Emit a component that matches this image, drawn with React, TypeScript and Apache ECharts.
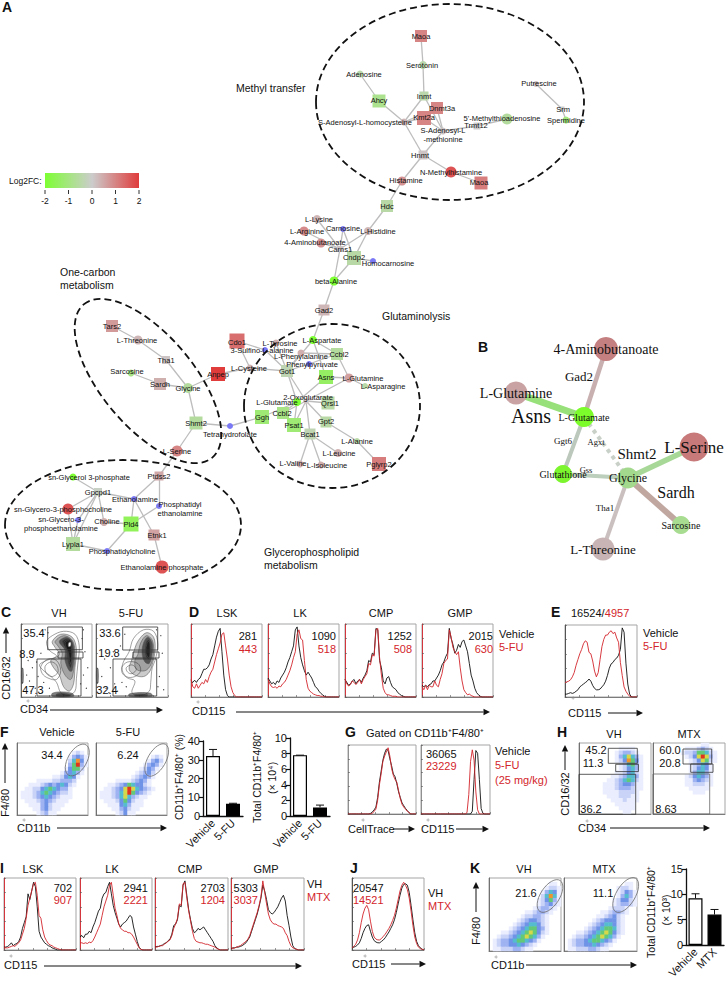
import React, { useEffect, useRef } from "react";
import * as echarts from "echarts";

const SANS = '"Liberation Sans", Arial, sans-serif';
const SERIF = '"Liberation Serif", "Times New Roman", serif';
const RED = "#d3252b";

// ---------- Panel A network: id, label, log2FC (null = metabolite without FC), kind, x, y, size, label x, label y
const netNodes: any[] = [
  ["maoaA","Maoa",1,"r",421,36,12,421,36],["sero","Serotonin",-.6,"c",423,65,8,422,65],["adeno","Adenosine",-.6,"c",360,74,7,364,74],
  ["ahcy","Ahcy",-1,"r",379,101,13,379,100],["inmt","Inmt",-.6,"r",424,96,9,424,96],["dnmt","Dnmt3a",1,"r",437,108,12,442,108],
  ["kmt","Kmt2a",1,"r",424,118,14,424,117],["sah","S-Adenosyl-L-homocysteine",.3,"c",404,122,7,365,122],
  ["sam","S-Adenosyl-L\n-methionine",.1,"c",443,131,7,443,135],["mta","5'-Methylthioadenosine",-.8,"c",507,119,11,502,118],
  ["trmt","Trmt12",0,"r",477,126,7,476,125],["hnmt","Hnmt",.1,"r",423,155,9,420,155],["nmh","N-Methylhistamine",1.7,"c",451,172,11,451,172],
  ["maoaB","Maoa",1.1,"r",481,183,13,479,182],["hist","Histamine",.8,"c",402,181,9,406,180],["hdc","Hdc",-.7,"r",387,206,12,387,206],
  ["puts","Putrescine",.2,"c",536,84,6,539,83],["srm","Srm",0,"r",562,109,5,563,109],["sper","Spermidine",-1.2,"c",566,120,7,566,120],
  ["lys","L-Lysine",.3,"c",317,219,8,319,219],["arg","L-Arginine",.9,"c",304,231,9,307,231],["carn","Carnosine",null,"c",343,229,6,343,228],
  ["his","L-Histidine",.3,"c",368,231,8,378,231],["gaba","4-Aminobutanoate",.8,"c",321,243,9,315,242],["carns","Carns1",.1,"r",340,249,6,340,249],
  ["cndp","Cndp2",-.7,"r",354,258,14,354,257],["homo","Homocarnosine",null,"c",373,261,6,388,263],["bala","beta-Alanine",-2,"c",334,281,9,336,281],
  ["gad","Gad2",.3,"r",324,310,11,324,310],["asp","L-Aspartate",-2,"c",313,340,8,322,340],["tyr","L-Tyrosine",.4,"c",276,343,7,280,343],
  ["cdo","Cdo1",1.3,"r",237,341,15,237,342],["sulf","3-Sulfino-L-alanine",null,"c",265,350,6,262,350],["phe","L-Phenylalanine",.4,"c",301,353,7,301,356],
  ["ccblA","Ccbl2",-.8,"r",337,354,12,339,354],["pyr","Phenylpyruvate",null,"c",309,364,6,312,364],["cys","L-Cysteine",.3,"c",250,368,7,249,368],
  ["got","Got1",-.5,"r",287,371,12,287,371],["asns","Asns",-1.5,"r",326,377,14,326,377],["gln","L-Glutamine",.6,"c",349,378,9,363,378],
  ["asn","L-Asparagine",-.7,"c",365,386,6,383,386],["oxo","2-Oxoglutarate",.1,"c",306,401,6,308,397],["glu","L-Glutamate",-2,"c",297,402,8,277,402],
  ["qrsl","Qrsl1",-.7,"r",328,403,13,330,403],["ggh","Ggh",-1.3,"r",262,417,14,262,417],["ccblB","Ccbl2",-1.1,"r",283,413,12,282,413],
  ["gpt","Gpt2",-.7,"r",326,422,11,326,421],["psat","Psat1",-1.3,"r",294,425,14,294,425],["thf","Tetrahydrofolate",null,"c",230,426,6,230,434],
  ["bcat","Bcat1",-.5,"r",310,434,11,310,434],["ala","L-Alanine",-.7,"c",357,441,6,357,441],["leu","L-Leucine",.4,"c",338,453,8,339,453],
  ["val","L-Valine",.4,"c",300,464,7,293,463],["ile","L-Isoleucine",.4,"c",321,465,7,327,465],["pgl","Pglyrp2",1.1,"r",379,464,14,379,464],
  ["tars","Tars2",.7,"r",112,326,12,112,326],["thr","L-Threonine",.3,"c",138,340,9,137,340],["tha","Tha1",.1,"r",166,360,8,166,360],
  ["sar","Sarcosine",-1.1,"c",131,373,7,127,371],["sardh","Sardh",.4,"r",160,384,12,160,384],["gly","Glycine",-.8,"c",188,388,10,188,388],
  ["anpep","Anpep",2,"r",218,374,14,218,374],["shmt","Shmt2",-.8,"r",196,423,13,196,423],["ser","L-Serine",1,"c",177,451,11,177,451],
  ["ptd","Ptdss2",.5,"r",159,476,9,159,476],["g3p","sn-Glycerol 3-phosphate",-2,"c",73,477,7,89,477],["gpc","Gpcpd1",-.2,"r",98,492,8,98,492],
  ["etn","Ethanolamine",null,"c",134,499,6,135,499],["pe","Phosphatidyl\nethanolamine",null,"c",159,506,6,180,509],
  ["g3pc","sn-Glycero-3-phosphocholine",1.7,"c",68,509,11,63,509],["g3pe","sn-Glycero-3-\nphosphoethanolamine",null,"c",78,520,6,61,524],
  ["chol","Choline",.4,"c",104,522,8,107,521],["pld","Pld4",-1.6,"r",131,524,15,131,524],["etnk","Etnk1",.6,"r",154,535,11,157,535],
  ["lyp","Lypla1",-.8,"r",73,544,14,73,544],["pc","Phosphatidylcholine",null,"c",107,551,6,122,551],["ep","Ethanolamine phosphate",1.7,"c",162,567,13,162,567],
];
const netEdges = "maoaA-sero sero-inmt adeno-ahcy ahcy-sah inmt-sah inmt-sam dnmt-sah dnmt-sam kmt-sah kmt-sam sah-hnmt sam-hnmt sam-trmt trmt-mta puts-srm srm-sper hnmt-hist hnmt-nmh nmh-maoaB hist-hdc hdc-his his-cndp his-carns carn-carns carn-cndp lys-carns arg-carns gaba-carns carns-bala cndp-bala cndp-homo bala-gad gad-asp asp-got asp-ccblA asp-asns tyr-got phe-got phe-ccblA pyr-got pyr-ccblA sulf-got cdo-sulf cdo-cys cys-got cys-anpep anpep-gly got-oxo got-glu ccblA-gln asns-gln gln-asn gln-oxo asns-glu oxo-qrsl oxo-gpt gpt-ala ala-pgl oxo-bcat glu-ccblB oxo-ccblB glu-ggh oxo-psat glu-psat bcat-leu bcat-val bcat-ile ggh-thf thf-shmt shmt-gly shmt-ser gly-sardh sardh-sar gly-tha tha-thr thr-tars ser-ptd ptd-etn ptd-pe pe-pld etn-etnk etnk-ep etn-pld etn-gpc gpc-chol gpc-g3pc gpc-g3p gpc-g3pe gpc-lyp lyp-g3pc lyp-g3pe lyp-pc pc-pld pld-chol".split(" ");

// ---------- Panel B network
const bNodes: any[] = [
  ["aba","4-Aminobutanoate","#c47f80",606,349,24,14],["lgn","L-Glutamine","#c9a3a3",516,393,23,14],["lgu","L-Glutamate","#7cfc2a",584,417,20,10],
  ["gth","Glutathione","#7cf52e",563,474,18,10],["bgly","Glycine","#a3d98c",628,478,21,12],["bser","L-Serine","#c87a7a",694,447,29,17],
  ["bsar","Sarcosine","#a8dc90",681,525,18,10],["bthr","L-Threonine","#c8b4b4",603,549,23,13],
];
const bEdges: any[] = [
  ["lgu","aba","#c8b0b0",4.5,"solid"],["lgn","lgu","#97e07a",7,"solid"],["lgu","gth","#bcc8bc",4,"solid"],["lgu","bgly","#c8d0c8",4,"dotted"],
  ["gth","bgly","#bccebc",4,"solid"],["bgly","bser","#a8d898",5.5,"solid"],["bgly","bsar","#c0a8a0",6,"solid"],["bgly","bthr","#cbc0c0",4,"solid"],
];
const bEdgeLabels: any[] = [
  ["Gad2",579,376,13],["Asns",531,416,20],["Ggt6",563,441,9],["Agxt",596,442,8.5],["Shmt2",637,454,15],["Gss",586,470,8.5],["Sardh",676,492,16],["Tha1",605,508,9],
];

// ---------- histograms (percent of panel height, 40 channels)
const dLskK = [22,20,23,20,24,26,32,38,38,40,44,52,58,70,82,90,94,62,30,10,2,0,0,0,0,0,0,0,0,0,0,0,0,0,0,0,0,0,0,0];
const dLskR = [24,14,12,18,12,16,20,18,24,20,28,34,38,48,58,66,74,86,88,70,52,30,14,6,2,0,0,0,0,0,0,0,0,0,0,0,0,0,0,0];
const dLkK = [26,22,18,20,17,22,20,26,30,34,40,48,54,62,70,92,96,70,54,44,36,30,34,30,26,20,14,12,8,5,3,1,0,0,0,0,0,0,0,0];
const dLkR = [24,18,14,13,14,12,15,14,18,20,24,30,36,44,54,62,86,92,80,78,50,24,12,8,6,4,3,2,2,1,1,0,0,0,0,0,0,0,0,0];
const dCmpK = [24,20,16,18,22,24,18,22,24,20,26,30,36,50,48,60,58,94,92,50,40,22,18,26,28,20,14,12,10,6,4,2,1,0,0,0,0,0,0,0];
const dCmpR = [24,18,15,17,22,20,17,20,24,18,24,28,32,46,44,58,56,92,94,54,30,12,6,3,3,2,1,1,1,0,0,0,0,0,0,0,0,0,0,0];
const dGmpK = [16,14,16,14,17,18,22,22,26,30,36,44,48,55,60,94,80,72,60,64,72,68,76,78,70,62,46,30,22,12,6,3,1,0,0,0,0,0,0,0];
const dGmpR = [14,10,16,10,16,14,14,22,16,14,24,32,46,50,52,92,82,68,62,58,62,40,22,10,6,3,4,2,1,0,0,0,0,0,0,0,0,0,0,0];
const eK = [4,4,5,6,5,6,8,10,14,16,18,20,22,25,22,16,12,10,10,11,14,17,22,30,40,46,48,52,54,58,66,96,90,47,18,4,0,0,0,0];
const eR = [20,21,22,24,28,34,44,52,60,66,74,78,76,62,60,50,36,28,34,52,70,80,86,86,90,92,88,90,82,76,48,30,14,8,4,1,0,0,0,0];
const g1K = [0,0,0,0,0,0,0,0,0,0,0,0,0,1,3,6,10,24,46,62,78,88,94,92,80,70,58,54,44,32,24,16,12,8,5,2,0,0,0,0];
const g1R = [0,0,0,0,0,0,0,0,0,0,0,0,0,0,1,4,7,20,42,58,76,84,90,96,84,66,56,50,46,34,22,14,10,7,4,2,0,0,0,0];
const g2K = [0,0,0,0,0,0,0,0,0,0,0,0,0,0,0,0,0,0,0,0,0,0,0,0,0,0,0,0,0,4,50,92,88,50,8,1,0,0,0,0];
const g2R = [0,0,0,0,0,0,0,0,0,0,0,0,0,0,0,0,0,0,0,0,0,0,0,0,0,0,2,28,76,93,78,32,6,0,0,0,0,0,0,0];
const iLskK = [4,4,5,7,10,6,8,9,12,18,30,38,46,78,70,82,94,88,60,26,18,14,10,8,6,5,3,2,1,0,0,0,0,0,0,0,0,0,0,0];
const iLskR = [3,3,3,4,5,6,5,8,10,14,22,30,44,62,72,82,92,94,76,48,44,28,18,13,9,7,6,4,3,2,1,0,0,0,0,0,0,0,0,0];
const iLkK = [18,20,17,22,22,26,24,32,38,46,54,58,72,78,80,88,94,78,62,52,44,36,32,36,38,40,44,48,46,32,22,12,4,1,0,0,0,0,0,0];
const iLkR = [10,10,9,10,9,11,10,13,18,24,30,36,48,60,68,76,90,94,76,58,48,36,30,28,26,26,24,24,22,18,13,8,3,1,0,0,0,0,0,0];
const iCmpK = [4,5,5,6,7,9,10,13,15,22,34,36,42,62,60,90,96,76,56,42,30,24,26,30,28,30,32,28,24,20,16,12,6,3,1,0,0,0,0,0];
const iCmpR = [4,4,5,6,6,8,10,12,14,20,30,36,44,64,62,92,94,72,54,40,26,16,12,11,10,10,9,8,8,7,6,5,4,2,1,0,0,0,0,0];
const iGmpK = [2,3,3,4,4,5,6,8,10,14,18,26,34,42,50,60,72,90,82,70,56,52,50,52,56,60,66,72,76,68,48,34,18,6,2,1,0,0,0,0];
const iGmpR = [3,2,3,4,5,6,8,10,12,15,20,28,36,44,52,62,74,96,80,64,50,42,38,36,36,34,33,32,30,24,20,12,6,3,2,1,0,0,0,0];
const jK = [3,4,5,7,10,16,24,30,34,35,26,18,13,11,10,10,12,14,17,21,25,30,35,42,52,64,76,86,91,92,90,80,62,42,24,12,6,3,1,0];
const jR = [3,5,8,14,24,38,50,58,62,56,40,26,18,15,14,14,16,19,22,26,30,35,41,48,58,70,82,90,94,90,84,72,54,34,18,9,4,2,1,0];

// ---------- density plots (18 x 18 cells, 0 = empty ... 9 = red), rows from the top
const fVeh = ["000000000000000000","000000000000000000","000000000000001210","000000000000013431","000000000000025841","000000000000036931","000000000000146620","000000000001345310","000000000112454100","000001111223332000","000111234345421000","001122456543310000","011123565432210000","011123454321110000","001112343211100000","000111342111000000","000011342110000000","000001231100000000"];
const f5fu = ["000000000000000000","000000000000000000","000000000000000000","000000000000001210","000000000000013420","000000000000134310","000000000001243100","000000000012342000","000000000123431000","000001111234310000","000112346544210000","001123479754321000","011123579643210000","011123575321100000","001112464211000000","000111453111000000","000011342110000000","000001241100000000"];
const hVh = ["000000000000000000","000000000011110000","000000000123321000","000000000135753100","000000000124864100","000000000012563100","000000000012453100","000000000112452100","000000001123553100","000000011235652100","000000111234431100","000000111233321100","000000111122221000","000000011122211000","000000001112111000","000000000111110000","000000000011110000","000000000001100000"];
const hMtx = ["000000000000110000","000000001112321000","000000012236652100","000000001247973100","000000000124762100","000000000123541000","000000000124541000","000000000135531000","000000001245431000","000000001134321000","000000001122211000","000000000111110000","000000000011100000","000000000000000000","000000000000000000","000000000000000000","000000000000000000","000000000000000000"];
const kVh = ["000000000000000000","000000000000000110","000000000000001221","000000000000013541","000000000000025851","000000000000124631","000000000000123421","000000000001233210","000000000112332100","000000001223321000","000000012344321000","000000123455421000","000001234566431000","000112345676421000","001223456765310000","012334566543100000","012334454321000000","011222332110000000"];
const kMtx = ["000000000000000000","000000000000000110","000000000000012210","000000000000012431","000000000000013531","000000000000124421","000000000000123321","000000000001222100","000000000112332100","000000001123421000","000000012344421000","000000123455421000","000001234566521000","000112345676421000","001223456765310000","012334566543100000","012334454321000000","011222332110000000"];

// ---------- contour plots (x, y percent of the panel), outer to inner
const cVhLobes: number[][][] = [
  [[28,42],[38,52],[50,50],[56,36],[50,24],[38,26],[30,32]],
  [[34,42],[42,48],[50,44],[52,34],[44,28],[36,32]],
];
const cFuLobes: number[][][] = [
  [[36,40],[44,48],[58,46],[62,36],[54,28],[42,28]],
  [[42,40],[50,44],[56,38],[50,32],[44,34]],
];
const cVhRings: number[][][] = [
  [[36,76],[44,84],[60,90],[76,86],[82,70],[80,45],[78,25],[76,8],[66,2],[56,6],[50,20],[40,30],[32,36],[26,44],[36,50],[50,56],[40,64]],
  [[44,76],[56,86],[72,82],[78,66],[76,40],[74,18],[68,8],[60,14],[54,30],[46,40],[42,50],[54,58],[48,68]],
  [[48,76],[60,84],[72,78],[76,62],[74,36],[70,24],[62,30],[56,46],[58,60],[52,70]],
  [[54,76],[64,82],[72,76],[75,60],[72,36],[68,36],[62,50],[62,64]],
  [[58,76],[66,80],[72,74],[73,56],[70,40],[66,48],[64,66]],
  [[60,74],[68,79],[72,70],[72,52],[68,44],[66,60]],
  [[62,74],[68,77],[71,68],[71,50],[69,46],[67,60]],
  [[44,5],[56,7],[72,5],[74,1],[44,1]],
  [[50,4],[60,5],[70,3],[68,1],[50,1]],
  [[1,18],[3,20],[3,38],[1,40]],
];
const cFuRings: number[][][] = [
  [[46,62],[52,80],[66,92],[80,90],[86,72],[82,50],[78,40],[76,20],[74,8],[62,2],[50,6],[54,22],[44,26],[36,34],[38,48]],
  [[52,60],[58,76],[70,88],[80,82],[82,64],[78,44],[74,34],[66,28],[54,30],[46,38],[50,52]],
  [[58,58],[62,74],[70,84],[78,78],[80,62],[76,44],[68,36],[56,38],[54,50]],
  [[64,60],[66,74],[72,82],[78,74],[78,60],[74,46],[68,48]],
  [[68,62],[70,76],[74,78],[76,66],[74,52],[70,54]],
  [[69,62],[71,74],[74,76],[75,66],[74,54],[71,56]],
  [[46,4],[60,6],[76,5],[78,1],[46,1]],
  [[54,3],[62,4],[72,3],[70,1],[54,1]],
  [[1,18],[3,20],[3,38],[1,40]],
];
const cVhCore = [[67,74],[70,75],[70,70],[67,69]];
const cVhDots = [[8,30],[12,22],[16,40],[20,12],[24,28],[30,6],[10,50],[28,60],[34,92],[38,88],[86,80],[90,62],[88,30],[92,12],[84,18],[14,8],[22,48],[18,62],[32,20],[40,12],[88,92],[94,40]];
const cFuDots = [[8,28],[14,12],[20,40],[26,18],[30,8],[12,52],[24,62],[34,70],[40,86],[90,84],[92,60],[88,28],[94,10],[86,14],[18,6],[42,14],[36,20],[84,92]];

// ---------- bars
const barCatsFu = ["Vehicle", "5-FU"];
const barCatsMtx = ["Vehicle", "MTX"];
const pctMacrophage = [32, 6.5];
const pctMacrophageErr = [35.5, 6.8];
const totalMacrophage = [7.8, 1.1];
const totalMacrophageErr = [7.8, 1.4];
const totalMtx = [9.2, 6];
const totalMtxErr = [10.1, 7];
const axisTicks40 = { min: 0, max: 40, interval: 10 };
const axisTicks10 = { min: 0, max: 10, interval: 2 };
const axisTicks15 = { min: 0, max: 15, interval: 5 };
const legendTicks = ["-2", "-1", "0", "1", "2"];
const zeroMarks = [[28,701],[198,702],[573,698],[24,820],[363,820],[428,820],[587,821],[11,956],[365,956],[496,957]];

function lerpColor(a: number[], b: number[], t: number) {
  return "rgb(" + a.map((v, i) => Math.round(v + (b[i] - v) * t)).join(",") + ")";
}
function fcColor(fc: number | null) {
  if (fc === null) return "#7a78f5";
  const gray = [204, 204, 204];
  return fc < 0 ? lerpColor(gray, [125, 255, 51], Math.pow(-fc / 2, 1.3)) : lerpColor(gray, [224, 60, 60], fc / 2);
}

function buildOption() {
  const grids: any[] = [], xAxes: any[] = [], yAxes: any[] = [], series: any[] = [], g: any[] = [];
  const heatIdx: number[] = [];

  const T = (text: string, x: number, y: number, o: any = {}) => g.push({
    type: "text", x, y, rotation: o.rot || 0, silent: true, z: 200,
    style: { text, fill: o.color || "#111", font: `${o.bold ? "bold " : ""}${o.size || 11}px ${o.family || SANS}`,
      align: o.align || "left", verticalAlign: "middle", textAlign: o.align || "left", textVerticalAlign: "middle" },
  });
  const C = (text: string, x: number, y: number, o: any = {}) => T(text, x, y, { ...o, align: "center" });
  const R = (text: string, x: number, y: number, o: any = {}) => T(text, x, y, { ...o, align: "right" });
  const Arrow = (x1: number, y1: number, x2: number, y2: number) => {
    const dx = Math.sign(x2 - x1), dy = Math.sign(y2 - y1), L = 6.5, W = 3.2;
    g.push({ type: "line", silent: true, z: 150, shape: { x1, y1, x2: x2 - dx * L, y2: y2 - dy * L }, style: { stroke: "#111", lineWidth: 1 } });
    g.push({ type: "polygon", silent: true, z: 150, shape: { points: [[x2, y2], [x2 - dx * L - dy * W, y2 - dy * L - dx * W], [x2 - dx * L + dy * W, y2 - dy * L + dx * W]] }, style: { fill: "#111" } });
  };
  const Gate = (x: number, y: number, w: number, h: number, stroke = "#333") =>
    g.push({ type: "rect", silent: true, z: 150, shape: { x, y, width: w, height: h }, style: { fill: "transparent", stroke, lineWidth: .8 } });
  const Oval = (x: number, y: number, rx: number, ry: number, deg: number, o: any = {}) =>
    g.push({ type: "ellipse", silent: true, z: 150, x, y, rotation: -deg * Math.PI / 180, shape: { cx: 0, cy: 0, rx, ry },
      style: { fill: "transparent", stroke: o.stroke || "#111", lineWidth: o.w || 1.8, lineDash: o.dash || null } });

  const addGrid = (left: number, top: number, width: number, height: number, border = true) => {
    grids.push({ left, top, width, height, show: border, borderColor: "#a5a5a5", borderWidth: 1, backgroundColor: "transparent", containLabel: false });
    return grids.length - 1;
  };
  const flowAxes = (axisColor: string, cat = false) => {
    const i = xAxes.length;
    const base = { show: true, axisLabel: { show: false }, splitLine: { show: false }, axisTick: { show: true, inside: true, length: 2, lineStyle: { color: "#555", width: .6 } } };
    xAxes.push({ ...base, gridIndex: i, position: "bottom", axisLine: { show: true, onZero: false, lineStyle: { color: "#666", width: .8 } },
      ...(cat ? { type: "category", data: Array.from({ length: 18 }, (_, k) => String(k)), axisTick: { show: false } } : { type: "value", min: 0, max: 100, interval: 20 }) });
    yAxes.push({ ...base, gridIndex: i, axisLine: { show: true, onZero: false, lineStyle: { color: axisColor, width: .9 } },
      ...(cat ? { type: "category", inverse: true, data: Array.from({ length: 18 }, (_, k) => String(k)), axisTick: { show: false } } : { type: "value", min: 0, max: 100, interval: 20 }) });
    return i;
  };

  // network grid in page pixels
  const net = addGrid(0, 0, 728, 981, false);
  xAxes.push({ gridIndex: net, type: "value", min: 0, max: 728, show: false });
  yAxes.push({ gridIndex: net, type: "value", min: 0, max: 981, inverse: true, show: false });
  const plainLabel = { color: "#111", textBorderWidth: 0, textBorderColor: "transparent", textShadowBlur: 0 };
  const nodeItem = (id: string, label: string, color: string, kind: string, x: number, y: number, size: number, lx: number, ly: number, font: any) => ({
    id, name: id, value: [x, y], symbol: kind === "r" ? "rect" : "circle", symbolSize: size, itemStyle: { color },
    label: { ...plainLabel, show: true, position: "inside", formatter: label, offset: [lx - x, ly - y], align: "center", verticalAlign: "middle", lineHeight: font.size + 1, fontSize: font.size, fontFamily: font.family },
  });
  series.push({
    type: "graph", coordinateSystem: "cartesian2d", xAxisIndex: net, yAxisIndex: net, layout: "none", silent: true, z: 5,
    data: netNodes.map(n => nodeItem(n[0], n[1], fcColor(n[2]), n[3], n[4], n[5], n[6], n[7], n[8], { size: 7.5, family: SANS })),
    links: netEdges.map(e => { const [source, target] = e.split("-"); return { source, target }; }),
    lineStyle: { color: "#bdbdbd", width: 1.3, opacity: 1, curveness: 0 },
  });
  series.push({
    type: "graph", coordinateSystem: "cartesian2d", xAxisIndex: net, yAxisIndex: net, layout: "none", silent: true, z: 5,
    data: bNodes.map(n => nodeItem(n[0], n[1], n[2], "c", n[3], n[4], n[5], n[3], n[4], { size: n[6], family: SERIF })),
    links: bEdges.map(e => ({ source: e[0], target: e[1], lineStyle: { color: e[2], width: e[3], type: e[4], opacity: 1 } })),
  });
  series.push({
    type: "scatter", xAxisIndex: net, yAxisIndex: net, silent: true, symbolSize: 1, z: 6, itemStyle: { color: "transparent", opacity: 1 },
    data: bEdgeLabels.map(l => ({ value: [l[1], l[2]], label: { ...plainLabel, show: true, position: "inside", formatter: l[0], fontSize: l[3], fontFamily: SERIF } })),
  });

  const hist = (left: number, top: number, w: number, h: number, k: number[], r: number[], axisColor = RED) => {
    const i = addGrid(left, top, w, h); flowAxes(axisColor);
    const line = (d: number[], color: string) => series.push({ type: "line", xAxisIndex: i, yAxisIndex: i, silent: true, showSymbol: false, symbol: "none", z: 3,
      data: d.map((v, c) => [c * 100 / 39, v]), lineStyle: { color, width: .9 } });
    line(k, "#111"); line(r, RED);
  };
  const density = (left: number, top: number, w: number, h: number, rows: string[]) => {
    const i = addGrid(left, top, w, h); flowAxes("#666", true);
    const data: number[][] = [];
    rows.forEach((row, y) => row.split("").forEach((ch, x) => { if (ch !== "0") data.push([x, y, +ch]); }));
    heatIdx.push(series.length);
    series.push({ type: "heatmap", xAxisIndex: i, yAxisIndex: i, silent: true, data, z: 2 });
  };
  const contour = (left: number, top: number, w: number, h: number, lobes: number[][][], rings: number[][][], dots: number[][], core?: number[][]) => {
    const i = addGrid(left, top, w, h); flowAxes("#555");
    const all = [...lobes, ...rings, ...(core ? [core] : [])];
    series.push({
      type: "custom", xAxisIndex: i, yAxisIndex: i, silent: true, clip: false, data: all.map((_, n) => [n]), z: 2,
      renderItem: (_p: any, api: any) => {
        const n = api.value(0), depth = n - lobes.length;
        const fill = core && n === all.length - 1 ? "#ffffff" : depth < 1 ? "transparent" : depth < 3 ? "rgba(20,20,20,0.22)" : "rgba(20,20,20,0.55)";
        return { type: "polygon", shape: { points: all[n].map(p => api.coord(p)), smooth: .35 },
          style: { fill, stroke: "#555", lineWidth: .55 } };
      },
    });
    series.push({ type: "scatter", xAxisIndex: i, yAxisIndex: i, silent: true, symbolSize: 1.2, data: dots, itemStyle: { color: "#333", opacity: 1 }, z: 2 });
  };
  const bars = (left: number, top: number, w: number, h: number, cats: string[], vals: number[], errs: number[], ticks: any) => {
    const i = addGrid(left, top, w, h, false);
    xAxes.push({ gridIndex: i, type: "category", data: cats, axisTick: { show: false }, axisLine: { lineStyle: { color: "#111", width: 1.3 } },
      axisLabel: { rotate: 45, fontSize: 11, fontFamily: SANS, color: "#111", margin: 5, interval: 0 } });
    yAxes.push({ gridIndex: i, type: "value", ...ticks, splitLine: { show: false }, axisLine: { show: true, lineStyle: { color: "#111", width: 1.3 } },
      axisTick: { show: true, length: 4, lineStyle: { color: "#111", width: 1.2 } }, axisLabel: { fontSize: 11, fontFamily: SANS, color: "#111", margin: 3 } });
    series.push({ type: "bar", xAxisIndex: i, yAxisIndex: i, silent: true, barWidth: 14, z: 3,
      data: vals.map((v, n) => ({ value: v, itemStyle: { color: n === 0 ? "#fff" : "#000", borderColor: "#000", borderWidth: 1.2 } })) });
    series.push({
      type: "custom", xAxisIndex: i, yAxisIndex: i, silent: true, z: 3, data: vals.map((v, n) => [n, v, errs[n]]),
      renderItem: (_p: any, api: any) => {
        const a = api.coord([api.value(0), api.value(1)]), b = api.coord([api.value(0), api.value(2)]);
        const st = { stroke: "#111", lineWidth: 1 };
        return { type: "group", children: [
          { type: "line", shape: { x1: a[0], y1: a[1], x2: b[0], y2: b[1] }, style: st },
          { type: "line", shape: { x1: b[0] - 4, y1: b[1], x2: b[0] + 4, y2: b[1] }, style: st },
        ] };
      },
    });
  };

  // ---- Panel A annotations
  Oval(450, 102, 134, 98, 0, { dash: [7, 4] });
  Oval(332, 406, 88, 82, 0, { dash: [7, 4] });
  Oval(148, 381, 100, 46, 50, { dash: [7, 4] });
  Oval(123, 525, 118, 65, 0, { dash: [7, 4] });
  T("A", 2, 7, { bold: true, size: 14 });
  T("Methyl transfer", 236, 88, { size: 10.5 });
  T("One-carbon", 60, 272, { size: 10.5 }); T("metabolism", 60, 285, { size: 10.5 });
  T("Glutaminolysis", 382, 316, { size: 10.5 });
  T("Glycerophospholipid", 264, 552, { size: 10.5 }); T("metabolism", 264, 565, { size: 10.5 });
  T("Log2FC:", 9, 181, { size: 8.5 });
  g.push({ type: "rect", silent: true, z: 150, shape: { x: 45, y: 173, width: 94, height: 15 }, style: {
    fill: { type: "linear", x: 0, y: 0, x2: 1, y2: 0, colorStops: [{ offset: 0, color: "#7dff33" }, { offset: .5, color: "#cccccc" }, { offset: 1, color: "#e03c3c" }] } } });
  legendTicks.forEach((tick, n) => {
    const x = 45 + n * 23.5;
    g.push({ type: "line", silent: true, z: 150, shape: { x1: x, y1: 190, x2: x, y2: 194 }, style: { stroke: "#333", lineWidth: 1 } });
    C(tick, x, 201, { size: 8.5 });
  });
  T("B", 478, 347, { bold: true, size: 14 });

  // ---- Panel C
  T("C", 1, 612, { bold: true, size: 14 });
  C("VH", 59, 613); C("5-FU", 131, 613);
  contour(21, 624, 71, 73, cVhLobes, cVhRings, cVhDots, cVhCore);
  contour(96, 624, 72, 73, cFuLobes, cFuRings, cFuDots);
  Gate(47.7, 627, 34.7, 22.7); Gate(58, 652, 25, 6); Gate(37, 659, 44, 37);
  Gate(122.7, 627, 35, 23); Gate(133, 652, 26, 6); Gate(113, 659, 43.7, 37);
  [["35.4", 34, 633], ["8.9", 27, 654], ["47.3", 33, 690], ["33.6", 110, 633], ["19.8", 109, 653], ["32.4", 107, 690]].forEach((v: any) => C(v[0], v[1], v[2]));
  C("CD16/32", 6, 678, { rot: Math.PI / 2 }); Arrow(6, 653, 6, 627);
  T("CD34", 20, 709); Arrow(50, 710, 163, 710);

  // ---- Panel D
  T("D", 189, 612, { bold: true, size: 14 });
  C("LSK", 227, 613); C("LK", 300, 613); C("CMP", 381, 613); C("GMP", 460, 613);
  hist(191, 624, 71, 73, dLskK, dLskR); hist(268, 624, 71, 73, dLkK, dLkR); hist(345, 624, 71, 73, dCmpK, dCmpR); hist(422, 624, 71, 73, dGmpK, dGmpR);
  [["281", "443", 257], ["1090", "518", 336], ["1252", "508", 412], ["2015", "630", 493]].forEach((v: any) => { R(v[0], v[2], 636); R(v[1], v[2], 649, { color: RED }); });
  T("Vehicle", 499, 634); T("5-FU", 499, 647, { color: RED });
  T("CD115", 192, 711); Arrow(236, 712, 490, 712);

  // ---- Panel E
  T("E", 551, 612, { bold: true, size: 14 });
  T("16524/", 571, 613); T("4957", 604.8, 613, { color: RED });
  hist(565, 625, 72, 72, eK, eR, "#444");
  T("Vehicle", 643, 633); T("5-FU", 643, 646, { color: RED });
  T("CD115", 568, 713); Arrow(608, 713, 643, 713);

  // ---- Panel F
  T("F", 0, 732, { bold: true, size: 14 });
  C("Vehicle", 57, 732); C("5-FU", 128, 732);
  density(17, 743, 71, 72, fVeh); density(96, 743, 71, 72, f5fu);
  Oval(77.3, 760, 9.5, 17.5, 30, { stroke: "#666", w: .7 }); Oval(156.7, 760, 9, 18, 30, { stroke: "#666", w: .7 });
  C("34.4", 52, 755); C("6.24", 128, 755);
  C("F4/80", 5, 803, { rot: Math.PI / 2 }); Arrow(5, 783, 5, 743);
  T("CD11b", 17, 828); Arrow(57, 828, 167, 828);
  bars(203, 741, 40, 75, barCatsFu, pctMacrophage, pctMacrophageErr, axisTicks40);
  bars(290, 738, 40, 78, barCatsFu, totalMacrophage, totalMacrophageErr, axisTicks10);
  C("CD11b⁺F4/80⁺ (%)", 179, 777, { rot: Math.PI / 2, size: 10.5 });
  C("Total CD11b⁺F4/80⁺", 257, 777, { rot: Math.PI / 2, size: 10.5 });
  C("(× 10⁴)", 272, 778, { rot: Math.PI / 2, size: 10.5 });

  // ---- Panel G
  T("G", 345, 732, { bold: true, size: 14 });
  T("Gated on CD11b⁺F4/80⁺", 366, 733);
  hist(348, 745, 68, 69, g1K, g1R, "#888"); hist(421, 745, 69, 69, g2K, g2R, "#888");
  T("36065", 426, 754); T("23229", 426, 766, { color: RED });
  T("Vehicle", 495, 751); T("5-FU", 495, 765, { color: RED }); T("(25 mg/kg)", 495, 780, { color: RED });
  T("CellTrace", 348, 829); Arrow(393, 829, 415, 829);
  T("CD115", 421, 829); Arrow(456, 829, 489, 829);

  // ---- Panel H
  T("H", 557, 732, { bold: true, size: 14 });
  C("VH", 614, 734); C("MTX", 689, 734);
  density(579, 743, 72, 71, hVh); density(653, 743, 72, 71, hMtx);
  Gate(608.3, 748.3, 29, 15); Gate(615.7, 764.3, 22.7, 7.3); Gate(579, 774.3, 56.7, 40);
  Gate(683, 749, 28.7, 15); Gate(690.7, 764, 22.3, 8.3); Gate(653, 774, 56.7, 40, "#666");
  [["45.2", 596, 750], ["11.3", 593, 763], ["36.2", 591, 809], ["60.0", 670, 750], ["20.8", 670, 763], ["8.63", 666, 809]].forEach((v: any) => C(v[0], v[1], v[2]));
  C("CD16/32", 565, 794, { rot: Math.PI / 2 }); Arrow(565, 770, 565, 745);
  T("CD34", 578, 828); Arrow(610, 828, 710, 828);

  // ---- Panel I
  T("I", 0, 868, { bold: true, size: 14 });
  C("LSK", 33, 869); C("LK", 112, 869); C("CMP", 190, 869); C("GMP", 266, 869);
  hist(4, 878, 72, 72, iLskK, iLskR); hist(80, 878, 72, 72, iLkK, iLkR); hist(155, 878, 73, 72, iCmpK, iCmpR); hist(231, 878, 73, 72, iGmpK, iGmpR);
  [["702", "907", 72], ["2941", "2221", 148], ["2703", "1204", 225], ["5303", "3037", 258]].forEach((v: any) => { R(v[0], v[2], 888); R(v[1], v[2], 900, { color: RED }); });
  T("VH", 307, 884); T("MTX", 307, 897, { color: RED });
  T("CD115", 4, 965); Arrow(44, 966, 302, 966);

  // ---- Panel J
  T("J", 350, 868, { bold: true, size: 14 });
  hist(352, 878, 72, 72, jK, jR, "#444");
  T("20547", 353, 888); T("14521", 353, 900, { color: RED });
  T("VH", 428, 893); T("MTX", 428, 906, { color: RED });
  T("CD115", 352, 964); Arrow(391, 964, 426, 964);

  // ---- Panel K
  T("K", 470, 868, { bold: true, size: 14 });
  C("VH", 524, 869); C("MTX", 604, 869);
  density(489, 878, 72, 73, kVh); density(564, 878, 73, 73, kMtx);
  Oval(550, 896, 9.5, 18.5, 33, { stroke: "#666", w: .7 }); Oval(625.7, 895, 9.5, 19.5, 31, { stroke: "#666", w: .7 });
  C("21.6", 526, 893); C("11.1", 603, 893);
  C("F4/80", 476, 931, { rot: Math.PI / 2 }); Arrow(476, 912, 476, 882);
  T("CD11b", 491, 965); Arrow(526, 965, 637, 965);
  bars(686, 869, 38, 78, barCatsMtx, totalMtx, totalMtxErr, axisTicks15);
  C("Total CD11b⁺F4/80⁺", 651, 912, { rot: Math.PI / 2, size: 10.5 });
  C("(× 10³)", 666, 910, { rot: Math.PI / 2, size: 10.5 });

  zeroMarks.forEach(m => g.push({ type: "circle", silent: true, z: 150, shape: { cx: m[0], cy: m[1], r: 1 }, style: { fill: "transparent", stroke: "#888", lineWidth: .6 } }));

  return {
    animation: false,
    backgroundColor: "#fff",
    textStyle: { fontFamily: SANS },
    grid: grids, xAxis: xAxes, yAxis: yAxes, series,
    visualMap: { type: "continuous", show: false, min: 1, max: 9, dimension: 2, seriesIndex: heatIdx,
      inRange: { color: ["#eaedfd", "#c9d3f8", "#9fb2f1", "#6f93e6", "#55bcd0", "#63c878", "#d6d84a", "#f0922e", "#e0341f"] } },
    graphic: { elements: g },
  };
}

export default function App() {
  const ref = useRef<HTMLDivElement>(null);
  useEffect(() => {
    document.body.style.margin = "0";
    const chart = echarts.init(ref.current!, undefined, { renderer: "svg" });
    chart.setOption(buildOption() as any);
    return () => chart.dispose();
  }, []);
  return <div ref={ref} style={{ width: 728, height: 981 }} />;
}
